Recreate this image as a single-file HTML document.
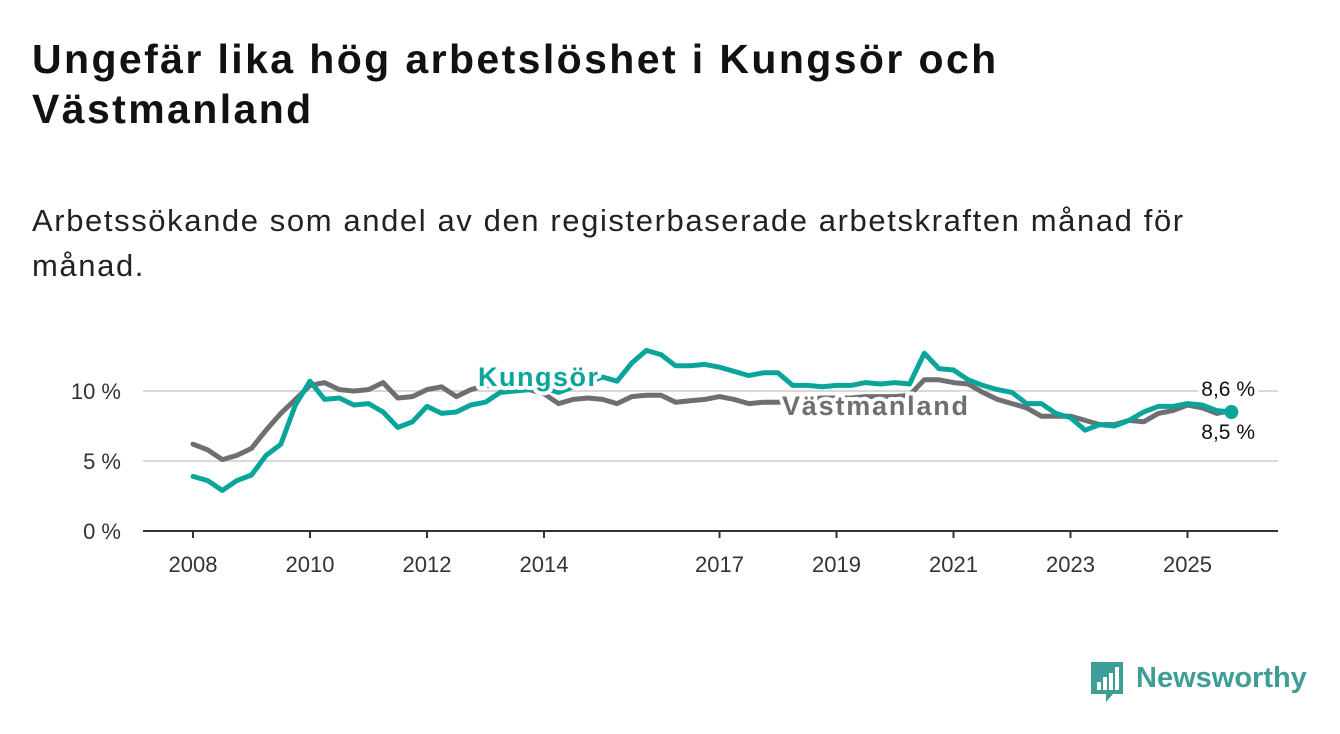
<!DOCTYPE html>
<html><head><meta charset="utf-8">
<style>
html,body{margin:0;padding:0;background:#fff;}
body{width:1340px;height:734px;overflow:hidden;position:relative;font-family:"Liberation Sans",sans-serif;color:#111;}
h1{position:absolute;left:32px;top:34px;margin:0;font-size:41px;letter-spacing:2.4px;line-height:50px;font-weight:bold;color:#111;white-space:nowrap;}
.sub{position:absolute;left:32px;top:198px;margin:0;font-size:31px;letter-spacing:1.6px;line-height:45px;color:#222;white-space:nowrap;}
svg{position:absolute;left:0;top:0;}
</style></head><body>
<h1>Ungefär lika hög arbetslöshet i Kungsör och<br>Västmanland</h1>
<p class="sub">Arbetssökande som andel av den registerbaserade arbetskraften månad för<br>månad.</p>
<svg id="chart" width="1340" height="734"></svg>
<script>
const startYear = 2008;
const stepYears = 0.25;
const vastmanland = [6.2,5.8,5.1,5.4, 5.9,7.2,8.4,9.4, 10.4,10.6,10.1,10.0, 10.1,10.6,9.5,9.6, 10.1,10.3,9.6,10.1, 10.4,10.3,10.2,10.1, 9.8,9.1,9.4,9.5, 9.4,9.1,9.6,9.7, 9.7,9.2,9.3,9.4, 9.6,9.4,9.1,9.2, 9.2,9.3,9.4,9.5, 9.5,9.5,9.6,9.6, 9.6,9.7,10.8,10.8, 10.6,10.5,9.9,9.4, 9.1,8.8,8.2,8.2, 8.2,7.9,7.6,7.6, 7.9,7.8,8.4,8.6, 9.0,8.8,8.4,8.6];
const kungsor = [3.9,3.6,2.9,3.6, 4.0,5.4,6.2,9.0, 10.7,9.4,9.5,9.0, 9.1,8.5,7.4,7.8, 8.9,8.4,8.5,9.0, 9.2,9.9,10.0,10.1, 10.2,9.9,10.3,10.6, 11.0,10.7,12.0,12.9, 12.6,11.8,11.8,11.9, 11.7,11.4,11.1,11.3, 11.3,10.4,10.4,10.3, 10.4,10.4,10.6,10.5, 10.6,10.5,12.7,11.6, 11.5,10.8,10.4,10.1, 9.9,9.1,9.1,8.4, 8.1,7.2,7.6,7.5, 7.9,8.5,8.9,8.9, 9.1,9.0,8.6,8.5];
const yTicks = [0,5,10];
const yTickLabels = ["0 %","5 %","10 %"];
const xTicks = [2008,2010,2012,2014,2017,2019,2021,2023,2025];

const NS="http://www.w3.org/2000/svg";
const svg=document.getElementById('chart');
const x0=193, pxPerYear=58.5, yBase=531, pxPerPct=14, left=143, right=1278;
const xs=y=>x0+(y-startYear)*pxPerYear;
const ys=v=>yBase-v*pxPerPct;
function mk(tag,attrs){const e=document.createElementNS(NS,tag);for(const k in attrs)e.setAttribute(k,attrs[k]);svg.appendChild(e);return e;}

yTicks.forEach((t,i)=>{
  if(t>0){const g=mk('line',{x1:left,x2:right,y1:ys(t),y2:ys(t),stroke:'#d8d8d8','stroke-width':2});
  
  }
  const l=mk('text',{x:121,y:ys(t)+8,'text-anchor':'end','font-size':22,fill:'#333','font-family':'Liberation Sans, sans-serif'});
  l.textContent=yTickLabels[i];
  
  
});
const ax=mk('line',{x1:left,x2:right,y1:yBase,y2:yBase,stroke:'#333','stroke-width':2});


xTicks.forEach(t=>{
  const tk=mk('line',{x1:xs(t),x2:xs(t),y1:yBase,y2:yBase+7,stroke:'#333','stroke-width':2});
  
  
  const l=mk('text',{x:xs(t),y:572,'text-anchor':'middle','font-size':22,fill:'#333','font-family':'Liberation Sans, sans-serif'});
  l.textContent=t;
  
  
});
function series(vals,color,name){
  const d=vals.map((v,i)=>(i?'L':'M')+xs(startYear+i*stepYears).toFixed(1)+','+ys(v).toFixed(1)).join(' ');
  const p=mk('path',{d:d,fill:'none',stroke:color,'stroke-width':5,'stroke-linejoin':'round','stroke-linecap':'round'});
  
  
}
series(vastmanland,'#6f6e73','line-vastmanland');
series(kungsor,'#0aa59a','line-kungsor');
const last=kungsor.length-1;
const dot=mk('circle',{cx:xs(startYear+last*stepYears),cy:ys(kungsor[last]),r:7,fill:'#0aa59a'});



function label(txt,x,y,color,size,weight,anchor,name,ls){
  const a={x:x,y:y,'font-size':size,'font-weight':weight,'text-anchor':anchor,'font-family':'Liberation Sans, sans-serif','letter-spacing':ls||0};
  const h=mk('text',Object.assign({},a,{fill:'#fff',stroke:'#fff','stroke-width':8,'stroke-linejoin':'round'}));
  h.textContent=txt;
  
  
  const t=mk('text',Object.assign({},a,{fill:color}));
  t.textContent=txt;
  
  
}
label('Kungsör',478,386,'#0aa59a',27,'bold','start','series-label-kungsor',1.5);
label('Västmanland',782,415,'#6f6e73',27,'bold','start','series-label-vastmanland',1.8);
label('8,6 %',1255,396,'#111',21,'normal','end','end-value-vastmanland');
label('8,5 %',1255,439,'#111',21,'normal','end','end-value-kungsor');
</script>
<div style="position:absolute;left:1089px;top:660px;width:230px;height:46px;">
  <svg width="40" height="44" style="position:absolute;left:0;top:0">
    <path d="M2 2 H34 V34 H24 L17 42 L17 34 H2 Z" fill="#3e9e97"/>
    <rect x="8" y="22" width="4" height="8" fill="#fff"/><rect x="14" y="17" width="4" height="13" fill="#fff"/><rect x="20" y="13" width="4" height="17" fill="#fff"/><rect x="26" y="7" width="4" height="23" fill="#fff"/>
  </svg>
  <span style="position:absolute;left:47px;top:2px;font-size:29px;font-weight:bold;color:#3e9e97;">Newsworthy</span>
</div>
</body></html>
